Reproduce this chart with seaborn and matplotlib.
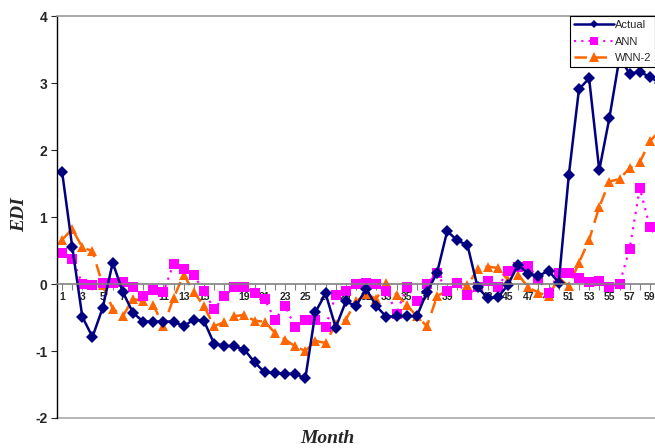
import matplotlib
matplotlib.use("Agg")
import matplotlib.pyplot as plt
import seaborn as sns
import pandas as pd
from matplotlib.lines import Line2D
from matplotlib.ticker import MultipleLocator, FixedLocator

# values (month 60 is cut at the right edge)
months = list(range(1, 61))
actual = [1.68, 0.56, -0.49, -0.79, -0.36, 0.32, -0.12, -0.43, -0.56, -0.56,
          -0.56, -0.56, -0.63, -0.53, -0.55, -0.89, -0.92, -0.93, -0.98, -1.17,
          -1.32, -1.33, -1.34, -1.34, -1.41, -0.42, -0.14, -0.65, -0.26, -0.33,
          -0.07, -0.33, -0.49, -0.48, -0.48, -0.48, -0.12, 0.17, 0.79, 0.65,
          0.58, -0.05, -0.21, -0.20, -0.01, 0.29, 0.15, 0.12, 0.20, 0.02,
          1.63, 2.91, 3.07, 1.70, 2.48, 3.38, 3.14, 3.17, 3.09, 3.00]
ann = [0.47, 0.38, 0.00, -0.01, 0.01, 0.02, 0.03, -0.05, -0.18, -0.09,
       -0.12, 0.30, 0.23, 0.13, -0.10, -0.38, -0.18, -0.05, -0.05, -0.14,
       -0.23, -0.53, -0.33, -0.64, -0.53, -0.54, -0.64, -0.17, -0.10, 0.00,
       0.02, 0.00, -0.10, -0.44, -0.04, -0.26, 0.00, 0.16, -0.10, 0.02,
       -0.17, -0.04, 0.04, -0.04, 0.19, 0.26, 0.27, 0.07, -0.13, 0.17,
       0.16, 0.09, 0.03, 0.05, -0.04, 0.00, 0.53, 1.43, 0.85, 0.60]
wnn2 = [0.66, 0.82, 0.55, 0.49, -0.01, -0.37, -0.48, -0.22, -0.26, -0.31,
        -0.63, -0.21, 0.14, -0.12, -0.33, -0.63, -0.57, -0.48, -0.46, -0.55,
        -0.56, -0.73, -0.83, -0.93, -1.00, -0.85, -0.88, -0.60, -0.53, -0.26,
        -0.15, -0.22, 0.02, -0.16, -0.31, -0.48, -0.63, -0.18, -0.10, 0.02,
        -0.02, 0.22, 0.26, 0.24, 0.06, 0.14, -0.05, -0.13, -0.18, 0.09,
        -0.03, 0.32, 0.66, 1.15, 1.53, 1.57, 1.73, 1.82, 2.13, 2.30]

df = pd.DataFrame({"Month": months, "Actual": actual, "ANN": ann, "WNN-2": wnn2})

sns.set_style("white")
plt.rcParams["font.family"] = ["Liberation Sans", "DejaVu Sans"]
plt.rcParams["axes.unicode_minus"] = False

fig = plt.figure(figsize=(6.55, 4.48), dpi=100)
ax = fig.add_axes([0.087, 0.067, 0.913, 0.897])

navy, magenta, orange = "#000080", "#FF00FF", "#FF6600"

sns.lineplot(data=df, x="Month", y="WNN-2", ax=ax, color=orange, lw=1.8,
             linestyle=(0, (5, 3)), marker="^", markersize=7, markeredgewidth=0)
sns.lineplot(data=df, x="Month", y="ANN", ax=ax, color=magenta, lw=1.6,
             linestyle=(0, (1, 2.5)), marker="s", markersize=6.5, markeredgewidth=0)
sns.lineplot(data=df, x="Month", y="Actual", ax=ax, color=navy, lw=1.8,
             marker="D", markersize=6, markeredgewidth=0)

ax.set_xlim(0.5, 59.5)
ax.set_ylim(-2, 4)

# spines: x axis sits at y = 0, gray frame lines top and bottom
ax.spines["left"].set_color("black")
ax.spines["left"].set_linewidth(1.0)
ax.spines["right"].set_visible(False)
ax.spines["top"].set_color("#999999")
ax.spines["top"].set_linewidth(1.2)
ax.spines["bottom"].set_position(("data", 0))
ax.spines["bottom"].set_color("#808080")
ax.spines["bottom"].set_linewidth(1.2)
ax.axhline(-2, color="#aaaaaa", lw=1.2, clip_on=False, zorder=0)

ax.yaxis.set_major_locator(MultipleLocator(1))
ax.tick_params(axis="y", direction="out", length=4, width=0.8, left=True,
               labelsize=10, pad=3)
for t in ax.get_yticklabels():
    t.set_fontweight("bold")

ax.xaxis.set_major_locator(FixedLocator(list(range(1, 60, 2))))
ax.xaxis.set_minor_locator(MultipleLocator(1))
ax.tick_params(axis="x", which="both", direction="out", length=4, width=0.8,
               bottom=True, color="#808080", labelsize=7.5, pad=2)
for t in ax.get_xticklabels():
    t.set_fontweight("bold")

ax.set_xlabel("")
ax.set_ylabel("")
fig.text(0.5, 0.022, "Month", family=["Liberation Serif"], style="italic",
         fontweight="bold", fontsize=14, ha="center", va="center")
fig.text(0.03, 0.52, "EDI", family=["Liberation Serif"], style="italic",
         fontweight="bold", fontsize=14, ha="center", va="center", rotation=90)

handles = [
    Line2D([], [], color=navy, lw=1.8, marker="D", markersize=4, markeredgewidth=0),
    Line2D([], [], color=magenta, lw=1.5, linestyle=(0, (1, 2.5)), marker="s",
           markersize=6, markeredgewidth=0),
    Line2D([], [], color=orange, lw=1.8, linestyle=(0, (5, 3)), marker="^",
           markersize=7, markeredgewidth=0),
]
leg = ax.legend(handles, ["Actual", "ANN", "WNN-2"], loc="upper right",
                bbox_to_anchor=(1.0, 1.0), fontsize=8, frameon=True,
                fancybox=False, edgecolor="black", framealpha=1,
                handlelength=3.6, handletextpad=0.1, borderpad=0.35,
                labelspacing=0.6, borderaxespad=0)
leg.get_frame().set_linewidth(0.8)

fig.savefig("out.png", dpi=100)
